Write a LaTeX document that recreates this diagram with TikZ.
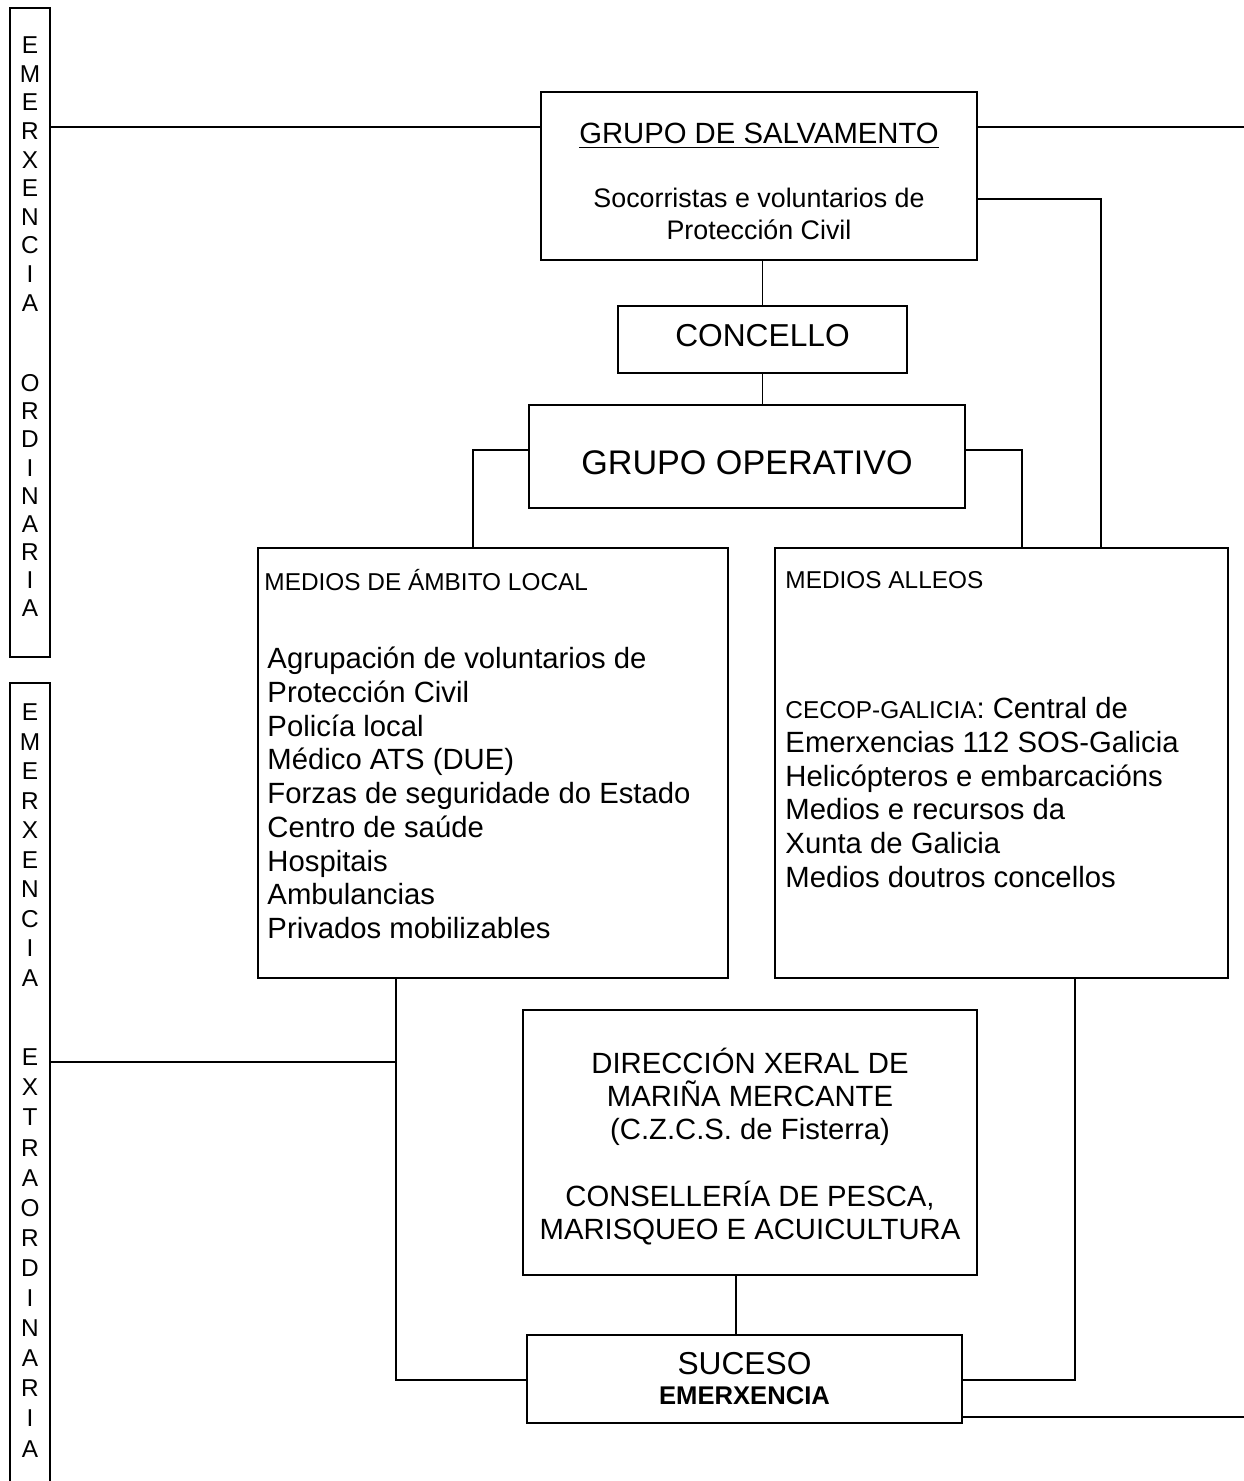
\documentclass[tikz,border=0pt]{standalone}
\usepackage{fontspec}
\setmainfont{Liberation Sans}
\usetikzlibrary{calc,fit}
\newcommand{\tam}[1]{\fontsize{#1}{#1}\selectfont}
\def\caixa(#1)(#2)(#3){\node[caixa, fit={(#2) (#3)}] (#1) {};}

\tikzset{
  caixa/.style={draw, line width=0.85pt, inner sep=0pt},
  conector/.style={line width=0.55pt},
  letra/.style={anchor=base, inner sep=0pt, font=\tam{10}},
  texto/.style={anchor=base, inner sep=0pt},
  lista/.style={anchor=base west, inner sep=0pt, font=\tam{12}},
}

\begin{document}
\begin{tikzpicture}[x=0.41pt, y=-0.41pt]
			\useasboundingbox (0,0) rectangle (1244,1481);
			
			%%%%% CAIXAS %%%%%
			\caixa(eo)(10,8)(50,657)
			\caixa(ee)(10,683)(50,1500)
			\caixa(gs)(541,92)(977,260)
			\caixa(co)(618,306)(907,373)
			\caixa(go)(529,405)(965,508)
			\caixa(ml)(258,548)(728,978)
			\caixa(ma)(775,548)(1228,978)
			\caixa(dx)(523,1010)(977,1275)
			\caixa(su)(527,1335)(962,1423)
			
			%%%%% TEXTOS VERTICAIS %%%%%
			\foreach \l [count=\i] in {E,M,E,R,X,E,N,C,I,A}
				\node[letra] (eoa\i) at (30,{53.7+(\i-1)*28.6}) {\l};
			\foreach \l [count=\i] in {O,R,D,I,N,A,R,I,A}
				\node[letra] (eob\i) at (30,{391.7+(\i-1)*28.1}) {\l};
			\foreach \l [count=\i] in {E,M,E,R,X,E,N,C,I,A}
				\node[letra] (eea\i) at (30,{720.7+(\i-1)*29.5}) {\l};
			\foreach \l [count=\i] in {E,X,T,R,A,O,R,D,I,N,A,R,I,A}
				\node[letra] (eeb\i) at (30,{1065.7+(\i-1)*30.1}) {\l};
			
			%%%%% GRUPOS %%%%%
			\node[texto, font=\tam{12}] (gst) at (759,143.5) {\underline{GRUPO DE SALVAMENTO}};
			\node[texto, font=\tam{11}] (gs1) at (759,207.6) {Socorristas e voluntarios de};
			\node[texto, font=\tam{11}] (gs2) at (759,239.6) {Protección Civil};
			\node[texto, font=\tam{13}] (cot) at (762.5,346.4) {CONCELLO};
			\node[texto, font=\tam{14}] (got) at (747,474) {GRUPO OPERATIVO};
			
			%%%%% MEDIOS %%%%%
			\node[lista, font=\tam{10}] (mlt) at (264,590.7) {MEDIOS DE ÁMBITO LOCAL};
			\foreach \t [count=\i] in {Agrupación de voluntarios de,Protección Civil,Policía local,Médico ATS (DUE),Forzas de seguridade do Estado,Centro de saúde,Hospitais,Ambulancias,Privados mobilizables}
				\node[lista] (ml\i) at (267,{668.5+(\i-1)*33.75}) {\t};
			
			\node[lista, font=\tam{10}] (mat) at (785,588.7) {MEDIOS ALLEOS};
			\foreach \t [count=\i] in {{\tam{10}CECOP-GALICIA\tam{12}: Central de},Emerxencias 112 SOS-Galicia,Helicópteros e embarcacións,Medios e recursos da,Xunta de Galicia,Medios doutros concellos}
				\node[lista] (ma\i) at (785,{718.5+(\i-1)*33.8}) {\t};
			
			%%%%% DIRECCION E SUCESO %%%%%
			\foreach \t/\y [count=\i] in {DIRECCIÓN XERAL DE/1073.5,MARIÑA MERCANTE/1106.5,(C.Z.C.S. de Fisterra)/1139.5,{CONSELLERÍA DE PESCA,}/1206.5,MARISQUEO E ACUICULTURA/1239.5}
				\node[texto, font=\tam{12}] (dx\i) at (750,\y) {\t};
			
			\node[texto, font=\tam{13}] (su1) at (744.5,1374.4) {SUCESO};
			\node[texto, font=\tam{10.5}\bfseries] (su2) at (744.5,1404) {EMERXENCIA};
			
			%%%%% CONECTORES %%%%%
			\coordinate (cA) at (1244,127);
			\coordinate (cB) at (1101,199);
			\coordinate (cC) at (473,450);
			\coordinate (cD) at (1022,450);
			\coordinate (cE) at (396,1380);
			\coordinate (cF) at (396,1062);
			\coordinate (cG) at (1075,1380);
			\coordinate (cH) at (1244,1417);
			\coordinate (cJ) at (736,1300);
			
			\draw[conector] (eo.east |- cA) -- (gs.west |- cA);
			\draw[conector] (gs.east |- cA) -- (cA);
			\draw[conector] (gs.east |- cB) -| (cB |- ma.north);
			\draw[conector] (co.north |- gs.south) -- (co.north);
			\draw[conector] (co.south) -- (co.south |- go.north);
			\draw[conector] (go.west |- cC) -| (cC |- ml.north);
			\draw[conector] (go.east |- cD) -| (cD |- ma.north);
			\draw[conector] (cE |- ml.south) |- (su.west |- cE);
			\draw[conector] (ee.east |- cF) -- (cF);
			\draw[conector] (cG |- ma.south) |- (su.east |- cG);
			\draw[conector] (su.east |- cH) -- (cH);
			\draw[conector] (cJ |- dx.south) -- (cJ |- su.north);
			
			%%%%% FIN %%%%%
		\end{tikzpicture}
\end{document}
